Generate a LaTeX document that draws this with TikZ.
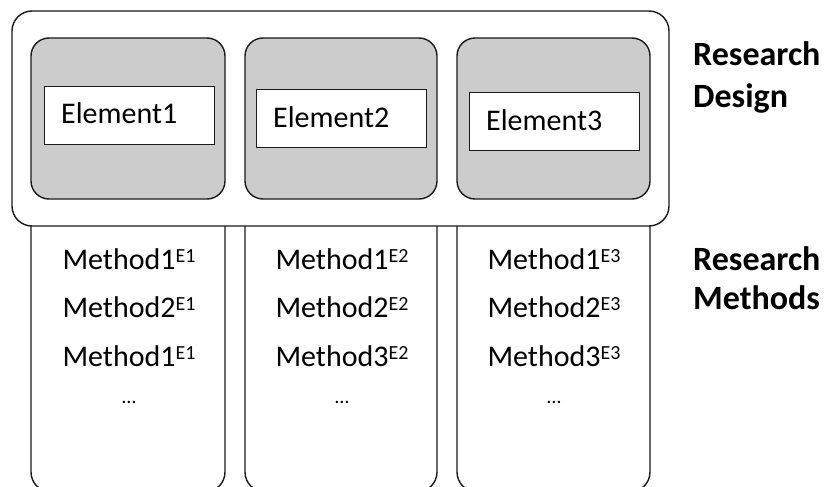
\documentclass[tikz,border=0pt]{standalone}
\usepackage{fontspec}
\setmainfont{Carlito}
\usetikzlibrary{calc}
\definecolor{panelgray}{HTML}{CCCCCC}
\definecolor{edge}{HTML}{1A1A1A}
% superscript tag such as E1, E2, E3
\newcommand\eltag[1]{\raisebox{6.5pt}{\fontsize{20}{20}\selectfont #1}}
\begin{document}
\begin{tikzpicture}[x=1pt,y=-1pt,
  methodcol/.style={draw=edge, line width=1.4pt, rounded corners=20pt, fill=white,
    inner sep=0pt, outer sep=0pt, minimum height=292pt},
  designbox/.style={draw=edge, line width=1.4pt, rounded corners=20pt, fill=white,
    inner sep=0pt, outer sep=0pt},
  graybox/.style={draw=edge, line width=1.4pt, rounded corners=18pt, fill=panelgray,
    inner sep=0pt, outer sep=0pt, minimum height=161pt},
  elembox/.style={draw=edge, line width=1pt, fill=white, inner sep=0pt, outer sep=0pt,
    minimum width=170pt, minimum height=58pt},
  elemtext/.style={inner sep=0pt, anchor=base west, font=\fontsize{30}{36}\selectfont},
  methtext/.style={inner sep=0pt, anchor=base, font=\fontsize{30}{36}\selectfont},
  dotstext/.style={inner sep=0pt, anchor=base, font=\fontsize{20}{24}\selectfont},
  sidelabel/.style={inner sep=0pt, anchor=base west, font=\fontsize{34}{40}\selectfont\bfseries}]
\useasboundingbox (0,0) rectangle (830,487);
\clip (0,0) rectangle (830,487);

% method columns (their tops are hidden behind the design frame)
\node[methodcol, minimum width=194pt] (m1) at (128,346) {};
\node[methodcol, minimum width=192pt] (m2) at (341,346) {};
\node[methodcol, minimum width=193pt] (m3) at (553.5,346) {};

% research design frame
\node[designbox, minimum width=657pt, minimum height=215pt] (design) at (340.5,118.5) {};

% element panels
\node[graybox, minimum width=194pt] (g1) at (128,118.5) {};
\node[graybox, minimum width=192pt] (g2) at (341,118.5) {};
\node[graybox, minimum width=193pt] (g3) at (553.5,118.5) {};

\node[elembox] (e1) at (129,115) {};
\node[elembox] (e2) at (341,118) {};
\node[elembox] (e3) at (554,121) {};

\node[elemtext] (et1) at ($(e1.north west)+(17,37)$) {Element1};
\node[elemtext] (et2) at ($(e2.north west)+(17,38)$) {Element2};
\node[elemtext] (et3) at ($(e3.north west)+(17,38)$) {Element3};

% methods per element
\node[methtext] (a1) at (129,269) {Method1\eltag{E1}};
\node[methtext] (a2) at (129,317) {Method2\eltag{E1}};
\node[methtext] (a3) at (129,366) {Method1\eltag{E1}};
\node[dotstext] (a4) at (129,403) {…};

\node[methtext] (b1) at (342,269) {Method1\eltag{E2}};
\node[methtext] (b2) at (342,317) {Method2\eltag{E2}};
\node[methtext] (b3) at (342,366) {Method3\eltag{E2}};
\node[dotstext] (b4) at (342,403) {…};

\node[methtext] (c1) at (554,269) {Method1\eltag{E3}};
\node[methtext] (c2) at (554,317) {Method2\eltag{E3}};
\node[methtext] (c3) at (554,366) {Method3\eltag{E3}};
\node[dotstext] (c4) at (554,403) {…};

% side labels
\node[sidelabel] (rd1) at (693,66) {Research};
\node[sidelabel] (rd2) at (693,107) {Design};
\node[sidelabel] (rm1) at (693,270) {Research};
\node[sidelabel] (rm2) at (693,309) {Methods};
\end{tikzpicture}
\end{document}
